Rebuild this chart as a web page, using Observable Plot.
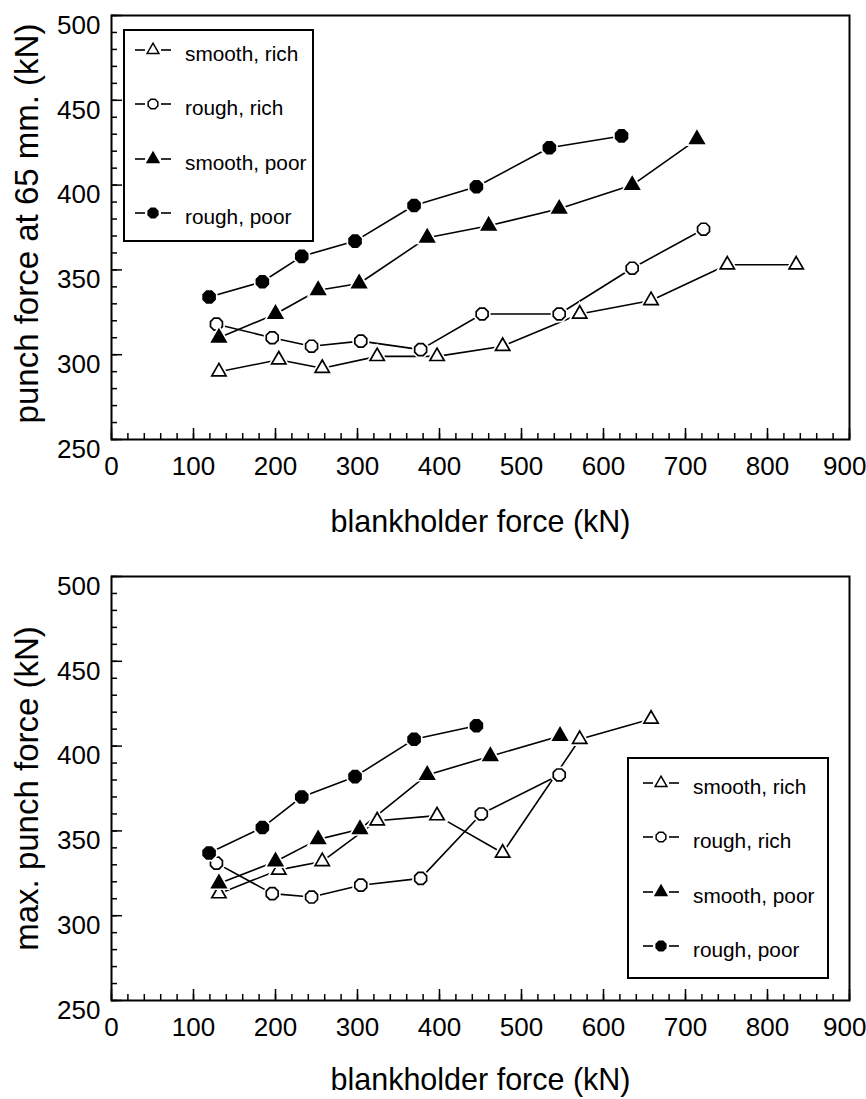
<!DOCTYPE html>
<html><head><meta charset="utf-8">
<script src="https://cdn.jsdelivr.net/npm/d3@7"></script>
<script src="https://cdn.jsdelivr.net/npm/@observablehq/plot@0.6"></script>
<style>
body{margin:0;background:#fff;font-family:"Liberation Sans",Arial,Helvetica,sans-serif;}
.chart{position:relative;width:866px;overflow:visible;}
.legend{position:absolute;overflow:visible;}
</style></head><body>
<div id="top" class="chart"></div>
<div id="bottom" class="chart"></div>
<script>
// Series definitions
const seriesNames = ["smooth, rich", "rough, rich", "smooth, poor", "rough, poor"];
const seriesSymbols = ["triangle", "octagon", "triangle", "octagon"];
const seriesFills = ["white", "white", "black", "black"];

// Axis ticks
const xTicks = [0, 100, 200, 300, 400, 500, 600, 700, 800, 900];
const yTicks = [250, 300, 350, 400, 450, 500];
const xMinor = d3.range(0, 901, 20);
const yMinor = d3.range(250, 501, 10);

// Top chart: punch force at 65 mm
const smoothRich65X = [131, 204, 257, 324, 397, 477, 571, 658, 751, 835];
const smoothRich65Y = [290, 297, 292, 299, 299, 305, 324, 332, 353, 353];
const roughRich65X = [128, 196, 244, 304, 377, 452, 546, 635, 722];
const roughRich65Y = [318, 310, 305, 308, 303, 324, 324, 351, 374];
const smoothPoor65X = [131, 200, 252, 302, 385, 460, 546, 635, 714];
const smoothPoor65Y = [310, 324, 338, 342, 369, 376, 386, 400, 427];
const roughPoor65X = [119, 184, 232, 297, 369, 445, 534, 622];
const roughPoor65Y = [334, 343, 358, 367, 388, 399, 422, 429];

// Bottom chart: max. punch force
const smoothRichMaxX = [131, 204, 257, 324, 397, 477, 571, 658];
const smoothRichMaxY = [313, 327, 332, 356, 359, 337, 404, 416];
const roughRichMaxX = [128, 196, 244, 304, 377, 451, 546];
const roughRichMaxY = [331, 313, 311, 318, 322, 360, 383];
const smoothPoorMaxX = [131, 200, 252, 303, 385, 462, 547];
const smoothPoorMaxY = [319, 332, 345, 351, 383, 394, 406];
const roughPoorMaxX = [119, 184, 232, 297, 369, 445];
const roughPoorMaxY = [337, 352, 370, 382, 404, 412];

const xLabel = "blankholder force (kN)";
const yLabelTop = "punch force at 65 mm. (kN)";
const yLabelBottom = "max. punch force (kN)";

// octagon symbol (the "circles" of the original are drawn as octagons)
const symbolOctagon = {
  draw(context, size) {
    const r = Math.sqrt(size / Math.PI) * 1.04;
    for (let k = 0; k < 8; k++) {
      const a = Math.PI / 8 + k * Math.PI / 4;
      const px = r * Math.cos(a), py = r * Math.sin(a);
      if (k === 0) context.moveTo(px, py); else context.lineTo(px, py);
    }
    context.closePath();
  }
};
function symOf(i) { return seriesSymbols[i] === "triangle" ? d3.symbolTriangle : symbolOctagon; }

function toRows(pairs) {
  const rows = [];
  pairs.forEach(([xs, ys], i) => xs.forEach((x, j) => rows.push({series: seriesNames[i], idx: i, x, y: ys[j]})));
  return rows;
}

const W = 866;
const FONT = "'Liberation Sans', Arial, Helvetica, sans-serif";
function makeChart({rows, height, marginTop, marginBottom, yLabel, xTitleDy, yTitleDy}) {
  const marginLeft = 111, marginRight = 17;
  const fw = W - marginLeft - marginRight;
  const fh = height - marginTop - marginBottom;
  const lastTick = xTicks[xTicks.length - 1];
  const marks = [
    Plot.tickY(yMinor, {y: d => d, insetRight: fw - 6, strokeWidth: 1.5}),
    Plot.tickY(yTicks, {y: d => d, insetRight: fw - 11, strokeWidth: 1.5}),
    Plot.tickX(xMinor, {x: d => d, insetTop: fh - 6, strokeWidth: 1.5}),
    Plot.tickX(xTicks, {x: d => d, insetTop: fh - 11, strokeWidth: 1.5}),
    Plot.axisY({ticks: yTicks, tickSize: 0, tickPadding: 11, fontSize: 26, dy: 10, label: null, tickFormat: d => d}),
    Plot.axisX({ticks: xTicks.slice(0, -1), tickSize: 0, tickPadding: 17, fontSize: 26, label: null, tickFormat: d => d}),
    // last tick label kept inside the page edge, as in the original
    Plot.text([lastTick], {x: d => d, frameAnchor: "bottom", dy: 17, dx: 17, textAnchor: "end", lineAnchor: "top", fontSize: 26, text: d => String(d)}),
    Plot.line(rows, {x: "x", y: "y", z: "series", stroke: "black", strokeWidth: 1.6})
  ];
  seriesNames.forEach((name, i) => {
    const data = rows.filter(r => r.idx === i);
    const r = seriesSymbols[i] === "triangle" ? 5.3 : 6.2;
    // white halo that opens a small gap in the lines around each marker
    marks.push(Plot.dot(data, {x: "x", y: "y", symbol: symOf(i), fill: "white", stroke: "white", strokeWidth: 5, r}));
    marks.push(Plot.dot(data, {x: "x", y: "y", symbol: symOf(i), fill: seriesFills[i], stroke: "black", strokeWidth: 1.7, r}));
  });
  marks.push(Plot.frame({strokeWidth: 2}));
  marks.push(Plot.text([xLabel], {frameAnchor: "bottom", dy: xTitleDy, fontSize: 30.5, lineAnchor: "middle", textAnchor: "middle", text: d => d}));
  marks.push(Plot.text([yLabel], {frameAnchor: "left", dx: -84, dy: yTitleDy, rotate: -90, fontSize: 33, lineAnchor: "middle", textAnchor: "middle", text: d => d}));
  return Plot.plot({
    width: W, height, marginTop, marginBottom, marginLeft, marginRight,
    x: {domain: [0, 900], axis: null},
    y: {domain: [250, 500], axis: null},
    style: {fontFamily: FONT, color: "black", background: "white", overflow: "visible"},
    marks
  });
}

function addLegend(container, {left, top, width, height, rowYs, symX, textX, fontSize, triSize, octSize}) {
  const svg = d3.select(container).append("svg").attr("class", "legend")
    .attr("width", width).attr("height", height)
    .style("left", left + "px").style("top", top + "px");
  svg.append("rect").attr("x", 1).attr("y", 1).attr("width", width - 2).attr("height", height - 2)
    .attr("fill", "white").attr("stroke", "black").attr("stroke-width", 2);
  seriesNames.forEach((name, i) => {
    const y = rowYs[i];
    const g = svg.append("g");
    g.append("line").attr("x1", symX - 18).attr("x2", symX - 8).attr("y1", y).attr("y2", y).attr("stroke", "black").attr("stroke-width", 1.6);
    g.append("line").attr("x1", symX + 8).attr("x2", symX + 18).attr("y1", y).attr("y2", y).attr("stroke", "black").attr("stroke-width", 1.6);
    const size = seriesSymbols[i] === "triangle" ? triSize : octSize;
    g.append("path").attr("d", d3.symbol(symOf(i), size)()).attr("transform", `translate(${symX},${y})`)
      .attr("fill", seriesFills[i]).attr("stroke", "black").attr("stroke-width", 1.5);
    g.append("text").attr("x", textX).attr("y", y + 11).attr("font-size", fontSize)
      .attr("font-family", FONT).attr("fill", "black").text(name);
  });
}

const topEl = document.getElementById("top");
topEl.append(makeChart({
  rows: toRows([[smoothRich65X, smoothRich65Y], [roughRich65X, roughRich65Y], [smoothPoor65X, smoothPoor65Y], [roughPoor65X, roughPoor65Y]]),
  height: 550, marginTop: 15, marginBottom: 111, yLabel: yLabelTop, xTitleDy: 83, yTitleDy: -4
}));
addLegend(topEl, {left: 123, top: 29, width: 191, height: 213, rowYs: [21, 75, 130, 184], symX: 30, textX: 62, fontSize: 20.8, triSize: 60, octSize: 80});

const botEl = document.getElementById("bottom");
botEl.append(makeChart({
  rows: toRows([[smoothRichMaxX, smoothRichMaxY], [roughRichMaxX, roughRichMaxY], [smoothPoorMaxX, smoothPoorMaxY], [roughPoorMaxX, roughPoorMaxY]]),
  height: 549, marginTop: 26, marginBottom: 99, yLabel: yLabelBottom, xTitleDy: 80, yTitleDy: 0
}));
addLegend(botEl, {left: 627, top: 207, width: 202, height: 222, rowYs: [26, 80, 135, 189], symX: 34, textX: 66, fontSize: 20.8, triSize: 60, octSize: 80});
</script>
</body></html>
